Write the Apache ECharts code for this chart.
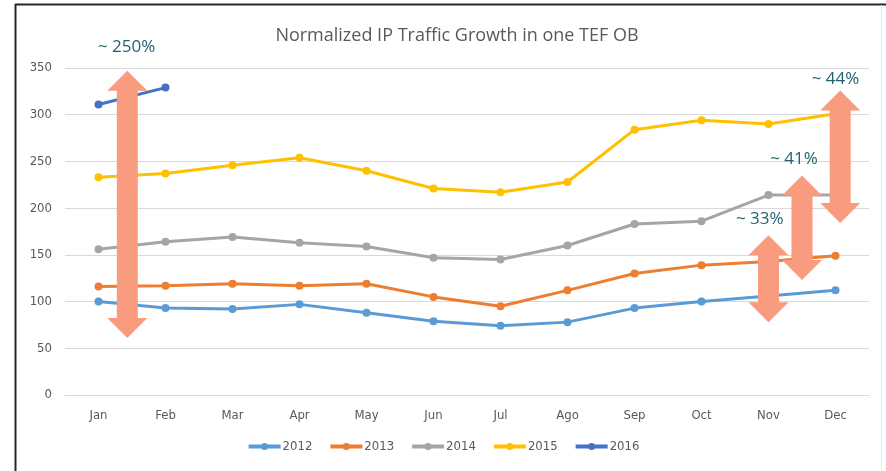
<!DOCTYPE html>
<html>
<head>
<meta charset="utf-8">
<script src="https://cdn.jsdelivr.net/npm/echarts@6/dist/echarts.min.js"></script>
<style>
  html, body { margin: 0; padding: 0; background: #fff; }
  #main { width: 886px; height: 471px; }
</style>
</head>
<body>
<div id="main"></div>
<script>
var months = ['Jan', 'Feb', 'Mar', 'Apr', 'May', 'Jun', 'Jul', 'Ago', 'Sep', 'Oct', 'Nov', 'Dec'];
var years = ['2012', '2013', '2014', '2015', '2016'];
var colors = ['#5B9BD5', '#ED7D31', '#A5A5A5', '#FFC000', '#4472C4'];

var traffic2012 = [100, 93, 92, 97, 88, 79, 74, 78, 93, 100, 106, 112];
var traffic2013 = [116, 117, 119, 117, 119, 105, 95, 112, 130, 139, 143, 149];
var traffic2014 = [156, 164, 169, 163, 159, 147, 145, 160, 183, 186, 214, 214];
var traffic2015 = [233, 237, 246, 254, 240, 221, 217, 228, 284, 294, 290, 301];
var traffic2016 = [311, 329];

// growth annotations: category position (index), bottom / top value, label value
var arrowPos = [0.43, 10, 10.5, 11.07];
var arrowFrom = [61, 78, 123, 184];
var arrowTo = [347, 171, 235, 326];
var growthLabels = ['~ 250%', '~ 33%', '~ 41%', '~ 44%'];
var labelPos = [0.42, 9.87, 10.38, 11.0];
var labelValue = [372, 188, 252, 338];

var allSeries = [traffic2012, traffic2013, traffic2014, traffic2015, traffic2016];
var axisFont = '"Liberation Sans Narrow", "DejaVu Sans Condensed", sans-serif';

var chart = echarts.init(document.getElementById('main'));

var series = years.map(function(y, i) {
  return {
    name: y,
    type: 'line',
    data: allSeries[i],
    symbol: 'circle',
    symbolSize: 8,
    lineStyle: { width: 3, color: colors[i] },
    itemStyle: { color: colors[i] },
    z: 2
  };
});

chart.setOption({
  animation: false,
  color: colors,
  title: {
    text: 'Normalized IP Traffic Growth in one TEF OB',
    left: 452,
    top: 22,
    textAlign: 'center',
    textStyle: {
      fontFamily: '"Open Sans", sans-serif',
      fontSize: 18,
      fontWeight: 'normal',
      color: '#595959'
    }
  },
  legend: {
    bottom: 13,
    left: 'center',
    itemWidth: 32,
    itemHeight: 9,
    itemGap: 16,
    lineStyle: { width: 4 },
    textStyle: { fontFamily: axisFont, fontSize: 13, color: '#595959', padding: [0, 0, 0, -3] },
    data: years
  },
  grid: { left: 65, right: 17, top: 68, bottom: 76 },
  xAxis: {
    type: 'category',
    data: months,
    boundaryGap: true,
    axisLine: { lineStyle: { color: '#D9D9D9' } },
    axisTick: { show: false },
    axisLabel: { fontFamily: axisFont, fontSize: 13, color: '#595959', margin: 14 }
  },
  yAxis: {
    type: 'value',
    min: 0,
    max: 350,
    interval: 50,
    axisLine: { show: false },
    axisTick: { show: false },
    axisLabel: { fontFamily: axisFont, fontSize: 13, color: '#595959', margin: 13 },
    splitLine: { lineStyle: { color: '#D9D9D9' } }
  },
  series: series
});

// draw the growth arrows from data coordinates
function px(pos, value) {
  var i0 = Math.floor(pos);
  var a = chart.convertToPixel({ gridIndex: 0 }, [i0, value]);
  var b = chart.convertToPixel({ gridIndex: 0 }, [i0 + 1, value]);
  return [a[0] + (b[0] - a[0]) * (pos - i0), a[1]];
}

function doubleArrow(cx, yTop, yBot) {
  var hw = 20, sw = 10.5, hh = 20;
  return [
    [cx, yTop], [cx + hw, yTop + hh], [cx + sw, yTop + hh],
    [cx + sw, yBot - hh], [cx + hw, yBot - hh], [cx, yBot],
    [cx - hw, yBot - hh], [cx - sw, yBot - hh], [cx - sw, yTop + hh],
    [cx - hw, yTop + hh]
  ];
}

var graphics = [
  { type: 'line', shape: { x1: 15, y1: 4.5, x2: 886, y2: 4.5 }, style: { stroke: '#1E2A30', lineWidth: 2 }, z: 10 },
  { type: 'line', shape: { x1: 15.5, y1: 4, x2: 15.5, y2: 471 }, style: { stroke: '#1E2A30', lineWidth: 2 }, z: 10 },
  { type: 'line', shape: { x1: 881.5, y1: 5, x2: 881.5, y2: 471 }, style: { stroke: '#E4E8EA', lineWidth: 1 }, z: 10 }
];

arrowPos.forEach(function(p, i) {
  var top = px(p, arrowTo[i]);
  var bot = px(p, arrowFrom[i]);
  graphics.push({
    type: 'polygon',
    shape: { points: doubleArrow(top[0], top[1], bot[1]) },
    style: { fill: '#F89B7E' },
    z: 5
  });
});

labelPos.forEach(function(p, i) {
  var pt = px(p, labelValue[i]);
  graphics.push({
    type: 'text',
    x: pt[0],
    y: pt[1],
    style: {
      text: growthLabels[i],
      align: 'center',
      verticalAlign: 'middle',
      fontFamily: '"Open Sans", sans-serif',
      fontSize: 17,
      fill: '#1F5F6E'
    },
    z: 6
  });
});

chart.setOption({ graphic: graphics });
</script>
</body>
</html>
